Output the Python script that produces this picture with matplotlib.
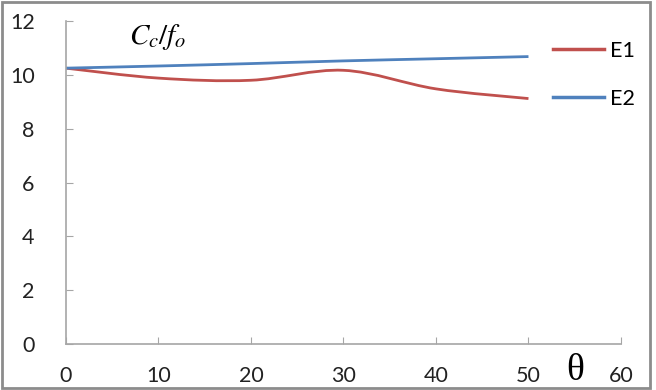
import numpy as np
import matplotlib.pyplot as plt
from matplotlib.path import Path
from matplotlib.patches import PathPatch, Rectangle
from matplotlib.lines import Line2D

theta = [0, 10, 20, 30, 40, 50]
e1 = [10.25, 9.88, 9.80, 10.17, 9.48, 9.12]
e2 = [10.25, 10.33, 10.42, 10.52, 10.60, 10.68]
names = ["E1", "E2"]
colors = ["#C0504D", "#4F81BD"]
xticks = [0, 10, 20, 30, 40, 50, 60]
yticks = [0, 2, 4, 6, 8, 10, 12]

plt.rcParams['font.family'] = ['Lato', 'DejaVu Sans']
plt.rcParams['mathtext.fontset'] = 'stix'


def smooth_path(x, y):
    # bezier through the points, like a spreadsheet "smoothed line"
    p = np.column_stack([x, y]).astype(float)
    verts = [p[0]]
    codes = [Path.MOVETO]
    n = len(p)
    for i in range(n - 1):
        p0 = p[i - 1] if i > 0 else p[i]
        p3 = p[i + 2] if i + 2 < n else p[i + 1]
        c1 = p[i] + (p[i + 1] - p0) / 6
        c2 = p[i + 1] - (p3 - p[i]) / 6
        verts += [c1, c2, p[i + 1]]
        codes += [Path.CURVE4] * 3
    return Path(verts, codes)


fig = plt.figure(figsize=(6.56, 3.9), dpi=100)
ax = fig.add_axes([0.1006, 0.118, 0.846, 0.828])

for ys, c in zip([e1, e2], colors):
    ax.add_patch(PathPatch(smooth_path(theta, ys), fill=False, edgecolor=c, lw=2.0))

ax.set_xlim(0, 60)
ax.set_ylim(0, 12)
ax.set_xticks(xticks)
ax.set_yticks(yticks)
for s in ["top", "right"]:
    ax.spines[s].set_visible(False)
for s in ["left", "bottom"]:
    ax.spines[s].set_color("#a6a6a6")
    ax.spines[s].set_linewidth(1.2)
ax.tick_params(axis="both", direction="in", length=5, color="#a6a6a6",
               labelsize=15.5, labelcolor="#222222")
ax.tick_params(axis="y", pad=22.5)
ax.tick_params(axis="x", pad=16)

handles = [Line2D([], [], color=c, lw=2.5) for c in colors]
fig.legend(handles, names, loc="upper left", bbox_to_anchor=(0.813, 0.945),
           frameon=False, fontsize=15.5, handlelength=2.4, handletextpad=0.25,
           labelspacing=1.3)

fig.text(0.197, 0.905, r"$C_c/f_o$", fontsize=21, ha="left", va="center")
fig.text(0.8765, 0.049, "θ", family="Liberation Serif", fontsize=27,
         ha="center", va="center")

fig.patches.append(Rectangle((0.003, 0.005), 0.988, 0.99, transform=fig.transFigure,
                             fill=False, edgecolor="#8c8c8c", lw=2))

fig.savefig("out.png", dpi=100)
